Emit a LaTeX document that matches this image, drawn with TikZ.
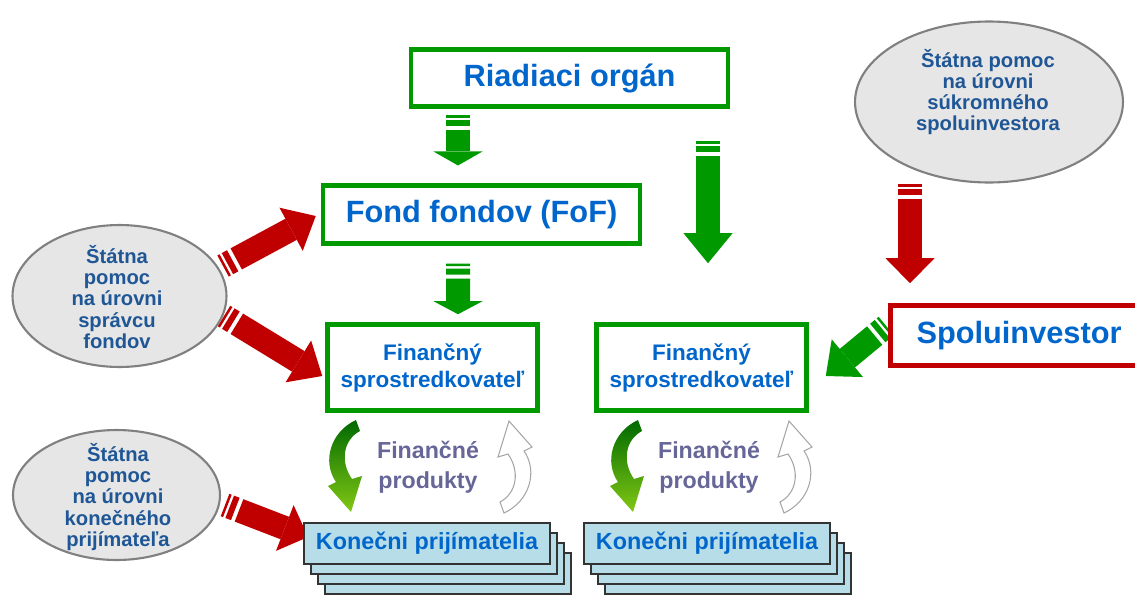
\documentclass[tikz,border=0pt]{standalone}
\usepackage{fontspec}
\setmainfont{Liberation Sans}
\usetikzlibrary{arrows.meta,shapes.geometric,calc}
\pgfdeclarelayer{background}
\pgfsetlayers{background,main}

\definecolor{boxgreen}{RGB}{0,153,0}
\definecolor{boxred}{RGB}{192,0,0}
\definecolor{titleblue}{RGB}{0,102,204}
\definecolor{ovaltext}{RGB}{31,86,150}
\definecolor{ovalfill}{RGB}{230,230,230}
\definecolor{ovalline}{RGB}{128,128,128}
\definecolor{prodtext}{RGB}{102,102,153}
\definecolor{kpfill}{RGB}{183,222,232}
\definecolor{darkgreen}{RGB}{0,105,0}
\definecolor{lightgreen}{RGB}{130,200,20}

\tikzset{
  bigbox/.style={draw=boxgreen, line width=2.6pt, fill=white, text=titleblue,
    font=\fontsize{17.5}{21}\selectfont\bfseries, minimum width=6.34cm,
    minimum height=1.15cm, inner sep=0pt},
  finbox/.style={draw=boxgreen, line width=2.6pt, fill=white, text=titleblue,
    font=\fontsize{12.8}{15.3}\selectfont\bfseries, align=center,
    minimum width=4.2cm, minimum height=1.72cm},
  oval/.style={ellipse, draw=ovalline, line width=1.2pt, fill=ovalfill, inner sep=0pt},
  ovaltxt/.style={text=ovaltext, font=\fontsize{11.5}{12}\selectfont\bfseries, align=center},
  prodtxt/.style={text=prodtext, font=\fontsize{13.2}{17}\selectfont\bfseries, align=center},
  kpbox/.style={draw=black!80, line width=1pt, fill=kpfill, minimum width=4.92cm,
    minimum height=0.82cm, text=titleblue, font=\fontsize{13.3}{16}\selectfont\bfseries},
  blkarrow/.style={line width=0.48cm,
    dash pattern=on 0.05cm off 0.05cm on 0.12cm off 0.08cm on 30cm off 1cm,
    -{Triangle[width=0.98cm, length=#1, line width=0pt]}},
  garrow/.style={blkarrow=#1, draw=boxgreen},
  rarrow/.style={blkarrow=#1, draw=boxred},
  curvarrow/.pic={
    \path[pic actions] (14,-46) .. controls (-12,-34) and (-20,-4) .. (-6,16)
      -- (-14,20) -- (9,46) -- (20,10) -- (10,13)
      .. controls (-2,-4) and (1,-26) .. (18,-35) -- cycle;
  }
}

\begin{document}
\begin{tikzpicture}[x=0.02cm,y=-0.02cm]

\clip (0,0) rectangle (1135,595);
\begin{pgfonlayer}{background}
\fill[white] (0,0) rectangle (1135,595);
\end{pgfonlayer}

% Boxes
\node[bigbox] (riadiaci) at (569.5,78) {Riadiaci orgán};
\node[bigbox] (fof) at (481.5,214.5) {Fond fondov (FoF)};
\node[bigbox, draw=boxred, minimum width=5.14cm, minimum height=1.2cm] (spolu) at (1019,335.5) {Spoluinvestor};
\node[finbox] (fin1) at (432.5,367.5) {Finančný\\sprostredkovateľ};
\node[finbox] (fin2) at (701.5,367.5) {Finančný\\sprostredkovateľ};

% Ovals
\node[oval, minimum width=4.28cm, minimum height=2.84cm] (pomocFond) at (119.5,296) {};
\node[ovaltxt] at (117,297) {Štátna\\pomoc\\na úrovni\\správcu\\fondov};
\node[oval, minimum width=4.14cm, minimum height=2.6cm] (pomocPrij) at (116.5,495) {};
\node[ovaltxt] at (118,497) {Štátna\\pomoc\\na úrovni\\konečného\\prijímateľa};
\node[oval, minimum width=5.36cm, minimum height=3.22cm] (pomocSpolu) at (989,102) {};
\node[ovaltxt] at (988,92) {Štátna pomoc\\na úrovni\\súkromného\\spoluinvestora};

% Konecni prijimatelia
\foreach \k in {3,2,1} {\node[kpbox] at (427+7*\k,543.5+10*\k) {};}
\node[kpbox] (kp1) at (427,543.5) {Konečni prijímatelia};
\foreach \k in {3,2,1} {\node[kpbox] at (707+7*\k,543.5+10*\k) {};}
\node[kpbox] (kp2) at (707,543.5) {Konečni prijímatelia};

% Financne produkty
\node[prodtxt] (prod1) at (428,467) {Finančné\\produkty};
\node[prodtxt] (prod2) at (709,467) {Finančné\\produkty};

\pic[top color=darkgreen, bottom color=lightgreen] at (342,466) {curvarrow};
\pic[rotate=180, fill=white, draw=gray!70, line width=0.6pt] at (518,467) {curvarrow};
\pic[top color=darkgreen, bottom color=lightgreen] at (624,466) {curvarrow};
\pic[rotate=180, fill=white, draw=gray!70, line width=0.6pt] at (798,467) {curvarrow};

% Block arrows
\begin{pgfonlayer}{background}
\draw[garrow=0.28cm] ($(riadiaci.south)+(-111.5,6)$) -- ($(fof.north)+(-23.5,-18)$);
\draw[garrow=0.6cm] ($(riadiaci.south)+(138.5,32)$) -- ($(fin2.north)+(6.5,-59)$);
\draw[garrow=0.26cm] ($(fof.south)+(-23.5,18)$) -- ($(fin1.north)+(25.5,-8)$);
\draw[rarrow=0.5cm] ($(pomocSpolu.south)+(-79,0.5)$) -- ($(spolu.north)+(-109,-20)$);
\draw[garrow=0.56cm] ($(spolu.west)+(-2,-9.5)$) -- ($(fin2.east)+(17,8.5)$);
\draw[rarrow=0.56cm] ($(pomocFond.east)+(-4.5,-30)$) -- ($(fof.west)+(-5,1.5)$);
\draw[rarrow=0.56cm] ($(pomocFond.east)+(-3.5,20)$) -- ($(fin1.west)+(-3,8.5)$);
\draw[rarrow=0.5cm] ($(pomocPrij.east)+(4,10)$) -- ($(kp1.west)+(5,-6.5)$);
\end{pgfonlayer}

\end{tikzpicture}
\end{document}
